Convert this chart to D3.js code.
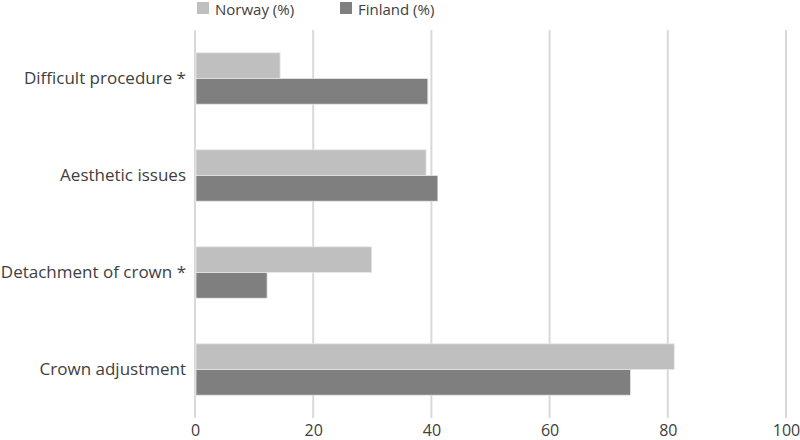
<!DOCTYPE html>
<html><head><meta charset="utf-8">
<script src="https://cdn.jsdelivr.net/npm/d3@7"></script>
<style>body{margin:0;background:#fff}text{font-family:"Open Sans",sans-serif}</style>
</head><body><svg id="c" width="800" height="440"></svg>
<script>
const categories = ["Difficult procedure *", "Aesthetic issues", "Detachment of crown *", "Crown adjustment"];
const seriesNames = ["Norway (%)", "Finland (%)"];
const norway = [14.4, 39.1, 29.9, 81.1];
const finland = [39.4, 41.1, 12.2, 73.7];
const xTicks = [0, 20, 40, 60, 80, 100];
const colors = ["#bfbfbf", "#7f7f7f"];

const svg = d3.select("#c");
const x = d3.scaleLinear().domain([0, 100]).range([195, 786]);
const y = d3.scaleBand().domain(categories).range([30, 418]).paddingInner(0.47).paddingOuter(0.235);
const sub = d3.scaleBand().domain(seriesNames).range([0, y.bandwidth()]);

// grid
svg.append("g").selectAll("line").data(xTicks).join("line")
  .attr("x1", d => x(d)).attr("x2", d => x(d)).attr("y1", 30).attr("y2", 418)
  .attr("stroke", "#d9d9d9").attr("stroke-width", 2);

// bars
const data = categories.map((c, i) => ({c, vals: [norway[i], finland[i]]}));
const g = svg.append("g");
data.forEach(d => {
  d.vals.forEach((v, j) => {
    g.append("rect")
      .attr("x", x(0) + 1).attr("y", y(d.c) + sub(seriesNames[j]))
      .attr("width", x(v) - x(0) - 1).attr("height", sub.bandwidth())
      .attr("fill", colors[j]).attr("stroke", "#e8e8e8").attr("stroke-width", 0.8);
  });
});

// x axis labels
const xa = svg.append("g").attr("transform", "translate(0,418)")
  .call(d3.axisBottom(x).tickValues(xTicks).tickSize(0).tickPadding(7));
xa.select(".domain").remove();
xa.selectAll("text").attr("font-size", 16).attr("fill", "#404040").attr("font-family", "Open Sans");

// y axis labels
const ya = svg.append("g").attr("transform", "translate(186,0)")
  .call(d3.axisLeft(y).tickSize(0).tickPadding(0));
ya.select(".domain").remove();
ya.selectAll("text").attr("font-size", 17).attr("fill", "#404040").attr("font-family", "Open Sans");

// legend
const legX = [197, 340];
seriesNames.forEach((s, i) => {
  svg.append("rect").attr("x", legX[i]).attr("y", 2).attr("width", 12).attr("height", 12).attr("fill", colors[i]);
  svg.append("text").attr("x", legX[i] + 18).attr("y", 14.5).attr("font-size", 15).attr("fill", "#404040").text(s);
});
</script></body></html>
